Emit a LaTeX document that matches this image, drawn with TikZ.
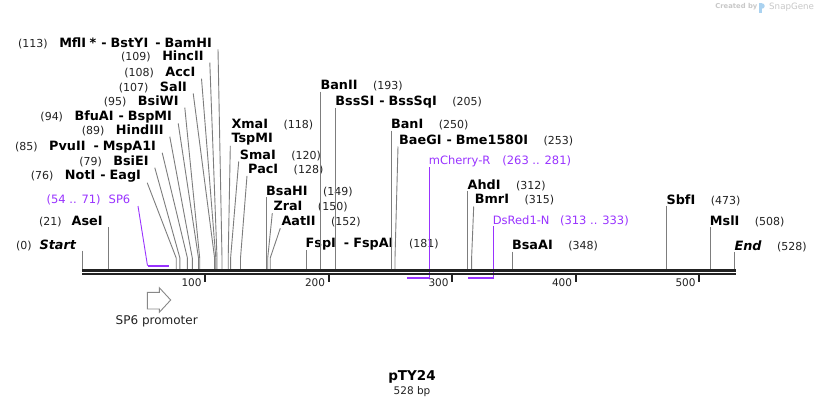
\documentclass[tikz,border=0pt]{standalone}
\usepackage{fontspec}
\setmainfont{DejaVu Sans}
\definecolor{sitecol}{RGB}{125,125,125}
\definecolor{primercol}{RGB}{153,51,255}
\definecolor{axiscol}{RGB}{34,34,34}
\definecolor{numcol}{RGB}{34,34,34}
\definecolor{wmgray}{RGB}{200,200,200}
\definecolor{wmblue}{RGB}{170,210,240}
\definecolor{featcol}{RGB}{136,136,136}
\newcommand{\numtxt}[1]{{\fontsize{11}{13}\selectfont\mdseries\color{numcol}#1}}
\newcommand{\nametxt}[1]{{\fontsize{12.8}{15}\selectfont\bfseries #1}}
\newcommand{\primtxt}[1]{{\fontsize{11.5}{14}\selectfont #1}}
\newcommand{\namesep}{\hspace{5pt}-\hspace{4pt}}
\newcommand{\lgap}{\hspace{11.5pt}}
\newcommand{\rgap}{\hspace{15.5pt}}
\begin{document}
\begin{tikzpicture}[x=1pt,y=-1pt,
  llab/.style={anchor=east, inner sep=0pt, text=black},
  rlab/.style={anchor=west, inner sep=0pt, text=black},
  siteline/.style={draw=sitecol, line width=0.9pt},
  primline/.style={draw=primercol, line width=0.9pt},
  primbar/.style={draw=primercol, line width=2pt},
]
\useasboundingbox (0,0) rectangle (818,408);
\fill[white] (0,0) rectangle (818,408);

% axis reference
\coordinate (axL) at (82.3,269);
\coordinate (axR) at (736,269);

% site coordinates (bend points)
\foreach \n/\x in {0/82.3,21/108.3,76/176.2,79/179.9,85/187.4,89/192.3,94/198.5,95/199.7,
  107/214.6,108/215.8,109/217.0,113/222.0,118/228.2,120/230.6,128/240.5,149/266.5,
  150/267.7,152/270.2,181/306.0,193/320.9,205/335.7,250/391.3,253/395.0,312/467.9,
  315/471.6,348/512.4,473/666.9,508/710.2,528/734.9}
  {\coordinate (s\n) at (\x,258);}

% left labels
\node[llab] (l113) at (212,43.3) {\numtxt{(113)}\lgap\nametxt{MflI\hspace{3.5pt}*\namesep BstYI\hspace{2pt}\namesep BamHI}};
\node[llab] (l109) at (203.8,56.7) {\numtxt{(109)}\lgap\nametxt{HincII}};
\node[llab] (l108) at (195.5,72.7) {\numtxt{(108)}\lgap\nametxt{AccI}};
\node[llab] (l107) at (187.2,87.3) {\numtxt{(107)}\lgap\nametxt{SalI}};
\node[llab] (l95) at (178.8,101.7) {\numtxt{(95)}\lgap\nametxt{BsiWI}};
\node[llab] (l94) at (172.2,117.3) {\numtxt{(94)}\lgap\nametxt{BfuAI\namesep BspMI}};
\node[llab] (l89) at (163.8,130.7) {\numtxt{(89)}\lgap\nametxt{HindIII}};
\node[llab] (l85) at (156.2,146.7) {\numtxt{(85)}\lgap\nametxt{PvuII\hspace{3pt}\namesep MspA1I}};
\node[llab] (l79) at (148.8,161.7) {\numtxt{(79)}\lgap\nametxt{BsiEI}};
\node[llab] (l76) at (141.2,176.7) {\numtxt{(76)}\lgap\nametxt{NotI\namesep EagI}};
\node[llab,text=primercol] (lsp6) at (130.5,200) {\primtxt{(54 .. 71)\hspace{8pt}SP6}};
\node[llab] (l21) at (102.8,221.7) {\numtxt{(21)}\hspace{10pt}\nametxt{AseI}};
\node[llab] (l0) at (76.2,245) {\numtxt{(0)}\hspace{8pt}\nametxt{\itshape Start}};

% right labels
\node[rlab] (r193) at (320.4,86) {\nametxt{BanII}\rgap\numtxt{(193)}};
\node[rlab] (r205) at (335.2,101.7) {\nametxt{BssSI\namesep BssSqI}\rgap\numtxt{(205)}};
\node[rlab] (r118x) at (231.3,125) {\nametxt{XmaI}\rgap\numtxt{(118)}};
\node[rlab] (r118) at (231.3,139.3) {\nametxt{TspMI}};
\node[rlab] (r120) at (239.7,155) {\nametxt{SmaI}\rgap\numtxt{(120)}};
\node[rlab] (r128) at (248,169.3) {\nametxt{PacI}\rgap\numtxt{(128)}};
\node[rlab] (r149) at (266,191.7) {\nametxt{BsaHI}\rgap\numtxt{(149)}};
\node[rlab] (r150) at (273.3,206.7) {\nametxt{ZraI}\rgap\numtxt{(150)}};
\node[rlab] (r152) at (281.3,221.7) {\nametxt{AatII}\rgap\numtxt{(152)}};
\node[rlab] (r181) at (305.5,244) {\nametxt{FspI\hspace{3pt}\namesep FspAI}\rgap\numtxt{(181)}};
\node[rlab] (r250) at (390.8,125) {\nametxt{BanI}\rgap\numtxt{(250)}};
\node[rlab] (r253) at (399,140) {\nametxt{BaeGI\namesep Bme1580I}\rgap\numtxt{(253)}};
\node[rlab,text=primercol] (rmch) at (428.6,161.7) {\primtxt{mCherry-R\hspace{12pt}(263 .. 281)}};
\node[rlab] (r312) at (467.4,185) {\nametxt{AhdI}\rgap\numtxt{(312)}};
\node[rlab] (r315) at (474.7,200) {\nametxt{BmrI}\rgap\numtxt{(315)}};
\node[rlab,text=primercol] (rds) at (492.6,221) {\primtxt{DsRed1-N\hspace{10.5pt}(313 .. 333)}};
\node[rlab] (r348) at (511.9,246) {\nametxt{BsaAI}\rgap\numtxt{(348)}};
\node[rlab] (r473) at (666.4,200) {\nametxt{SbfI}\rgap\numtxt{(473)}};
\node[rlab] (r508) at (709.7,221.7) {\nametxt{MslI}\rgap\numtxt{(508)}};
\node[rlab] (r528) at (734.4,246) {\nametxt{\itshape End}\rgap\numtxt{(528)}};

% connectors: left slanted
\foreach \n in {113,109,108,107,95,94,89,85,79,76}
  {\draw[siteline] ([shift={(6,6)}]l\n.east) -- (s\n) -- (s\n |- axL);}
% left vertical
\foreach \n in {0,21}
  {\draw[siteline] (s\n |- l\n.south) -- (s\n |- axL);}
% right vertical
\foreach \n in {193,205,149,181,250,312,348,473,508,528}
  {\draw[siteline] (s\n |- r\n.south) -- (s\n |- axL);}
% right slanted
\foreach \n in {118,120,128,150,152,253,315}
  {\draw[siteline] ([shift={(-1,6.5)}]r\n.west) -- (s\n) -- (s\n |- axL);}

% primers
\coordinate (p54) at (147.5,265.7);
\coordinate (p71) at (169,265.7);
\draw[primline] ([shift={(7.5,6)}]lsp6.east) -- (p54);
\draw[primbar] (p54) -- (p71);
\coordinate (m281) at (429.6,278.3);
\coordinate (m263) at (406.5,278.3);
\draw[primline] (m281 |- rmch.south) -- (m281);
\draw[primbar] ([xshift=0.45pt]m281) -- (m263);
\coordinate (d333) at (493.6,278.3);
\coordinate (d313) at (468.3,278.3);
\draw[primline] (d333 |- rds.south) -- (d333);
\draw[primbar] ([xshift=0.45pt]d333) -- (d313);

% axis
\draw[axiscol, line width=2.7pt] (82.3,270.3) -- (736,270.3);
\draw[axiscol, line width=2.2pt] (82.3,274.2) -- (736,274.2);
\foreach \t/\x in {100/205.3,200/328.8,300/452.3,400/575.8,500/699.3}
  {\draw[axiscol, line width=2pt] (\x,275.3) -- (\x,282);
   \node[anchor=east, inner sep=0pt, font=\fontsize{10.5}{12}\selectfont, text=numcol] at (\x-3.5,282.5) {\t};}

% SP6 promoter feature
\draw[featcol, line width=0.9pt, fill=white] (147.3,292.3) -- (159.3,292.3) -- (159.3,287.7)
  -- (170.7,300) -- (159.3,312.3) -- (159.3,309) -- (147.3,309) -- cycle;
\node[inner sep=0pt, font=\fontsize{12}{14}\selectfont, text=numcol] (sp6p) at (156.7,321.7) {SP6 promoter};

% title
\node[inner sep=0pt, font=\fontsize{13.5}{16}\selectfont\bfseries, text=black] (title) at (412,377) {pTY24};
\node[inner sep=0pt, font=\fontsize{10.5}{12}\selectfont, text=numcol] (len) at (412,391.5) {528 bp};

% watermark
\node[anchor=east, inner sep=0pt, font=\fontsize{6.8}{8}\selectfont\bfseries, text=wmgray] (wm1) at (757.5,7) {Created by};
\fill[wmblue] (759,2.5) rectangle (761.5,12.5);
\fill[wmblue] (761,2.5) .. controls (766,2.5) and (766,8.5) .. (761,8.5) -- cycle;
\node[anchor=west, inner sep=0pt, font=\fontsize{8.7}{10}\selectfont, text=wmgray] (wm2) at (769,7) {SnapGene};
\end{tikzpicture}
\end{document}
